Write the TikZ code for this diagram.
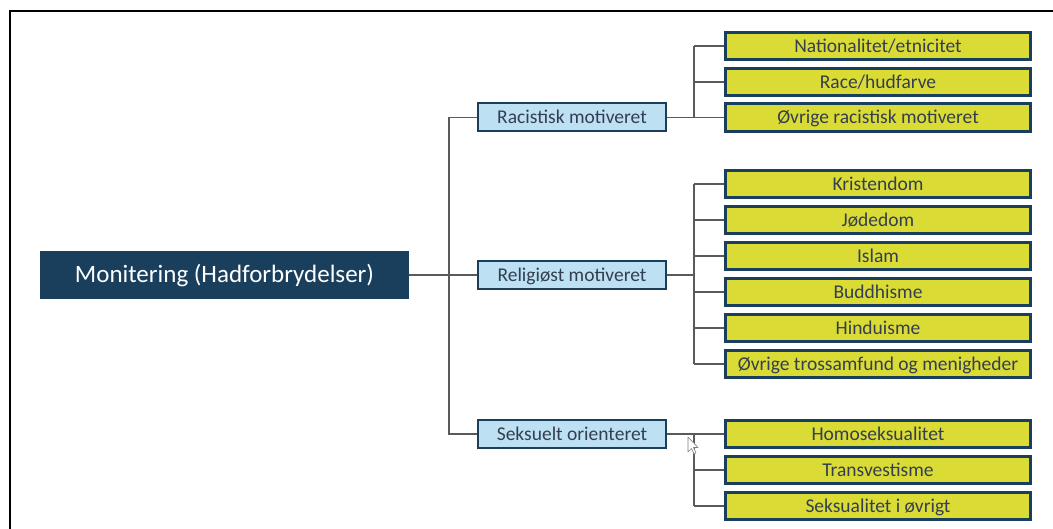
\documentclass[tikz,border=0pt]{standalone}
\usepackage{fontspec}
\setmainfont{Carlito}
\definecolor{navy}{HTML}{1A3F5C}
\definecolor{lblue}{HTML}{BDE0F3}
\definecolor{ylw}{HTML}{DBDB35}
\definecolor{txt}{HTML}{333F50}
\definecolor{conn}{HTML}{5A5A5A}
\begin{document}
\begin{tikzpicture}[x=1pt,y=-1pt,
  rootbox/.style={fill=navy,draw=none,minimum width=369pt,minimum height=48pt,text=white,font=\fontsize{25}{27}\selectfont,inner sep=0pt,text height=16pt,text depth=0pt},
  catbox/.style={fill=lblue,draw=navy,line width=2pt,minimum width=188pt,minimum height=28pt,text=txt,font=\fontsize{19.5}{21}\selectfont,inner sep=0pt,text height=12.5pt,text depth=0pt},
  leafbox/.style={fill=ylw,draw=navy,line width=2.6pt,minimum width=305pt,minimum height=27.5pt,text=txt,font=\fontsize{19.5}{21}\selectfont,inner sep=0pt,text height=12.5pt,text depth=0pt},
  link/.style={draw=conn,line width=1.2pt}]
\useasboundingbox (0,0) rectangle (1053,529);
\draw[line width=2pt] (10,529) -- (10,11) -- (1053,11);

\node[rootbox] (root) at (224.5,275) {Monitering (Hadforbrydelser)};

\node[catbox] (c1) at (572,117.5) {Racistisk motiveret};
\node[catbox] (c2) at (572,275) {Religiøst motiveret};
\node[catbox] (c3) at (572,434) {Seksuelt orienteret};

\foreach \n/\y/\t in {a1/46/Nationalitet\slash etnicitet, a2/82/Race\slash hudfarve, a3/117.5/Øvrige racistisk motiveret,
  b1/184/Kristendom, b2/220/Jødedom, b3/256/Islam, b4/292/Buddhisme, b5/328/Hinduisme, b6/364/Øvrige trossamfund og menigheder,
  s1/434/Homoseksualitet, s2/470/Transvestisme, s3/506/Seksualitet i øvrigt}
  \node[leafbox] (\n) at (878,\y) {\t};

% level 1 bus
\coordinate (bus) at (449,0);
\draw[link] (root.east) -- (root.east -| c2.west);
\draw[link] (c1.west) -| (bus |- c3.west) -- (c3.west);

% sub buses
\coordinate (sb) at (694,0);
\draw[link] (c1.east) -- (c1.east -| a3.west);
\draw[link] (sb |- a1.west) -- (a1.west);
\draw[link] (sb |- a2.west) -- (a2.west);
\draw[link] (sb |- a1.west) -- (sb |- a3.west);

\draw[link] (c2.east) -- (sb |- c2.east);
\draw[link] (sb |- b1.west) -- (sb |- b6.west);
\foreach \n in {b1,b2,b3,b4,b5,b6} \draw[link] (sb |- \n.west) -- (\n.west);

\draw[link] (c3.east) -- (c3.east -| s1.west);
\draw[link] (sb |- s1.west) -- (sb |- s3.west);
\foreach \n in {s2,s3} \draw[link] (sb |- \n.west) -- (\n.west);

% mouse cursor
\draw[fill=white,draw=gray,line width=0.6pt,line join=round]
  (688,437) -- (688,452) -- (691.5,448.5) -- (694,454) -- (696,453) -- (693.5,447.5) -- (698,447.5) -- cycle;
\end{tikzpicture}
\end{document}
